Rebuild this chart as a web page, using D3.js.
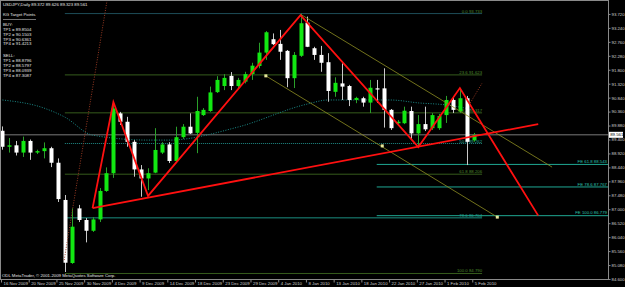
<!DOCTYPE html>
<html>
<head>
<meta charset="utf-8">
<script src="https://d3js.org/d3.v7.min.js"></script>
<style>
body { margin: 0; background: #000; }
svg text { font-family: "Liberation Sans", Arial, sans-serif; }
</style>
</head>
<body>
<div id="chart"></div>
<script>
// chart values
var priceTicks = [84.600, 85.080, 85.560, 86.040, 86.520, 87.000, 87.480, 87.960, 88.440, 88.920,
                  89.400, 89.880, 90.360, 90.840, 91.320, 91.800, 92.280, 92.760, 93.240, 93.720];
var dateLabels = ["16 Nov 2009", "20 Nov 2009", "25 Nov 2009", "30 Nov 2009", "4 Dec 2009", "9 Dec 2009",
                  "14 Dec 2009", "18 Dec 2009", "23 Dec 2009", "29 Dec 2009", "4 Jan 2010", "8 Jan 2010",
                  "13 Jan 2010", "18 Jan 2010", "22 Jan 2010", "27 Jan 2010", "1 Feb 2010", "5 Feb 2010"];
var dateBars = [0, 4, 8, 12, 16, 20, 24, 28, 32, 36, 40, 44, 48, 52, 56, 60, 64, 68];

// daily candles, bar 0 = 16 Nov 2009
var opens  = [89.70, 89.15, 89.20, 88.95, 89.35, 88.95, 89.00, 89.10, 88.60, 87.32,
              85.15, 87.03, 86.63, 86.26, 86.65, 87.63, 88.24, 90.30, 90.01, 89.32,
              88.37, 88.06, 88.26, 88.95, 89.23, 88.66, 89.48, 89.84, 89.63, 90.24,
              90.38, 91.03, 91.24, 91.59, 91.24, 91.39, 91.65, 91.93, 92.39, 92.85,
              92.69, 92.45, 91.51, 92.28, 93.42, 92.54, 92.31, 92.06, 91.04, 91.33,
              91.24, 90.76, 90.82, 90.67, 91.16, 91.16, 90.42, 89.96, 89.96, 90.38,
              89.61, 89.93, 89.79, 89.79, 90.24, 90.76, 90.36, 90.82, 89.372];
var highs  = [89.85, 89.45, 89.35, 89.50, 89.40, 89.05, 89.30, 89.15, 88.75, 87.49,
              87.03, 87.15, 86.70, 86.73, 87.73, 88.44, 90.70, 90.35, 90.18, 89.38,
              88.52, 88.41, 89.79, 89.31, 89.31, 89.84, 89.93, 90.30, 90.87, 90.48,
              91.22, 91.58, 91.65, 91.72, 91.52, 91.73, 92.04, 92.73, 93.13, 93.05,
              93.17, 92.48, 92.41, 93.733, 93.63, 92.59, 92.62, 92.37, 91.54, 92.02,
              91.28, 90.87, 90.87, 91.45, 91.45, 91.85, 90.45, 90.07, 90.53, 90.53,
              90.24, 90.53, 90.31, 90.28, 90.90, 90.83, 91.17, 90.90, 89.626];
var lows   = [89.05, 88.95, 88.85, 88.80, 88.70, 88.90, 88.75, 88.45, 87.25, 84.84,
              85.12, 86.56, 85.86, 86.22, 86.56, 87.60, 88.08, 89.90, 89.15, 88.12,
              87.43, 87.66, 88.24, 88.90, 88.59, 88.63, 89.42, 89.59, 88.93, 90.21,
              90.35, 91.00, 91.10, 91.10, 91.17, 91.33, 91.45, 91.85, 92.14, 92.65,
              92.14, 91.20, 91.17, 92.24, 92.58, 92.14, 91.73, 90.70, 90.87, 90.76,
              90.55, 90.65, 90.53, 90.31, 90.66, 89.81, 89.73, 89.90, 89.93, 89.38,
              89.13, 89.69, 89.73, 89.73, 89.97, 90.31, 90.31, 88.52, 89.323];
var closes = [89.15, 89.20, 88.95, 89.35, 88.95, 89.00, 89.10, 88.60, 87.35, 85.16,
              86.40, 86.63, 86.26, 86.65, 87.63, 88.24, 90.47, 90.01, 89.32, 88.37,
              88.06, 88.24, 89.04, 89.23, 88.66, 89.48, 89.84, 89.61, 90.38, 90.42,
              91.02, 91.45, 91.52, 91.24, 91.45, 91.65, 91.94, 92.39, 93.09, 92.68,
              92.42, 91.51, 92.31, 93.40, 92.59, 92.31, 92.04, 91.07, 91.35, 91.22,
              90.76, 90.83, 90.67, 91.18, 91.12, 90.42, 89.79, 90.01, 90.39, 89.61,
              89.93, 89.75, 90.24, 90.21, 90.76, 90.42, 90.82, 89.32, 89.561];

// moving average (dotted teal), sampled at some bars
var maBars   = [0, 6, 9, 13, 21, 24, 34, 44, 47, 56, 60, 64, 68];
var maValues = [90.76, 90.48, 90.17, 89.55, 89.38, 89.38, 89.83, 90.62, 90.76, 90.76, 90.66, 90.59, 90.42];

// fibonacci retracement 27 Nov low -> 7 Jan high
var fibNames  = ["0.0", "23.6", "38.2", "50.0", "61.8", "78.6", "100.0"];
var fibPrices = [93.733, 91.623, 90.317, 89.262, 88.206, 86.704, 84.790];
var fibBars   = [9, 69.2];

// fibonacci expansion
var feNames  = ["FE 61.8", "FE 78.6", "FE 100.0"];
var fePrices = [88.543, 87.767, 86.779];
var feBars   = [54, 87.4];

// red zigzag and trendline
var zigBars   = [13, 16, 21, 43, 60, 66, 77.3];
var zigPrices = [87.04, 90.69, 87.46, 93.68, 89.14, 91.17, 86.78];
var trendBars   = [13, 77.3];
var trendPrices = [87.04, 89.93];

// olive channel
var chanABars = [43.2, 79.3], chanAPrices = [93.68, 88.45];
var chanBBars = [38, 71.4],   chanBPrices = [91.59, 86.73];
var markBars  = [38, 54.8, 71.4], markPrices = [91.59, 89.18, 86.73];

// dotted dark red lines
var dotABars = [8.9, 15.1], dotAPrices = [85.25, 94.2];
var dotBBars = [67.5, 69.2], dotBPrices = [90.66, 91.34];

var lastPrice = 89.561;
var buyTP  = ["89.8504", "90.1503", "90.6361", "91.4213"];
var sellTP = ["88.8796", "88.5797", "88.0939", "87.3087"];

// set the dimensions of the graph
var width = 625, height = 287;
var plotRight = 608, plotBottom = 279;
var fs = "4.3px";

var svg = d3.select("#chart")
  .append("svg")
    .attr("width", width)
    .attr("height", height)
    .style("display", "block")
    .style("background", "#000");

var x = d3.scaleLinear()
  .domain([-0.36, 87.37])
  .range([0, plotRight]);

var y = d3.scaleLinear()
  .domain([84.6, 93.72])
  .range([plotBottom, 13.95]);

svg.append("clipPath").attr("id", "plot")
  .append("rect").attr("x", 1).attr("y", 1).attr("width", plotRight - 1).attr("height", plotBottom - 1);

var plot = svg.append("g").attr("clip-path", "url(#plot)");

// fibo retracement levels
var fibColors = ["#1d4c58", "#365c1c", "#365c1c", "#1f8a86", "#365c1c", "#1a8f80", "#365c1c"];
fibPrices.forEach(function(p, i) {
  plot.append("line")
    .attr("x1", x(fibBars[0])).attr("x2", x(fibBars[1]))
    .attr("y1", y(p)).attr("y2", y(p))
    .attr("stroke", fibColors[i])
    .attr("stroke-width", 1)
    .attr("stroke-dasharray", i == 3 ? "1,1" : null);
  plot.append("text")
    .attr("x", x(fibBars[1]))
    .attr("y", y(p) - 1)
    .attr("text-anchor", "end")
    .style("font-size", fs)
    .style("fill", i == 3 || i == 5 ? "#2aa898" : "#4e8a2c")
    .text(fibNames[i] + " " + p.toFixed(3));
});

// fibo expansion levels
fePrices.forEach(function(p, i) {
  plot.append("line")
    .attr("x1", x(feBars[0])).attr("x2", x(feBars[1]))
    .attr("y1", y(p)).attr("y2", y(p))
    .attr("stroke", "#1fa893")
    .attr("stroke-width", 1);
  plot.append("text")
    .attr("x", plotRight - 1)
    .attr("y", y(p) - 1.2)
    .attr("text-anchor", "end")
    .style("font-size", fs)
    .style("fill", "#2cc4b0")
    .text(feNames[i] + " " + p.toFixed(3));
});

// current price line
plot.append("line")
  .attr("x1", 0).attr("x2", plotRight)
  .attr("y1", y(lastPrice)).attr("y2", y(lastPrice))
  .attr("stroke", "#7a7a7a");

// moving average
plot.append("path")
  .datum(maBars.map(function(b, i) { return [b, maValues[i]]; }))
  .attr("fill", "none")
  .attr("stroke", "#1b8c8a")
  .attr("stroke-dasharray", "1,1.5")
  .attr("d", d3.line().curve(d3.curveMonotoneX)
    .x(function(d) { return x(d[0]); })
    .y(function(d) { return y(d[1]); }));

// candles
var bars = d3.range(opens.length);
plot.append("g").selectAll("line")
  .data(bars)
  .enter().append("line")
    .attr("x1", function(i) { return Math.round(x(i)) + 0.5; })
    .attr("x2", function(i) { return Math.round(x(i)) + 0.5; })
    .attr("y1", function(i) { return y(highs[i]); })
    .attr("y2", function(i) { return y(lows[i]); })
    .attr("stroke", function(i) { return closes[i] >= opens[i] ? "#2aa02a" : "#c8c8c8"; });

plot.append("g").selectAll("rect")
  .data(bars)
  .enter().append("rect")
    .attr("x", function(i) { return Math.round(x(i)) - 1.5; })
    .attr("width", 4)
    .attr("y", function(i) { return y(Math.max(opens[i], closes[i])); })
    .attr("height", function(i) { return Math.max(1, Math.abs(y(opens[i]) - y(closes[i]))); })
    .attr("fill", function(i) { return closes[i] >= opens[i] ? "#12e812" : "#ffffff"; });

// olive channel lines
var priceLine = d3.line()
  .x(function(d) { return x(d[0]); })
  .y(function(d) { return y(d[1]); });
function pairs(b, p) { return b.map(function(v, i) { return [v, p[i]]; }); }

plot.append("path").datum(pairs(chanABars, chanAPrices))
  .attr("fill", "none").attr("stroke", "#8e8e22").attr("stroke-width", 0.8).attr("d", priceLine);
plot.append("path").datum(pairs(chanBBars, chanBPrices))
  .attr("fill", "none").attr("stroke", "#8e8e22").attr("stroke-width", 0.8).attr("d", priceLine);
plot.append("g").selectAll("rect")
  .data(pairs(markBars, markPrices))
  .enter().append("rect")
    .attr("x", function(d) { return x(d[0]) - 1.5; })
    .attr("y", function(d) { return y(d[1]) - 1.5; })
    .attr("width", 3).attr("height", 3)
    .attr("fill", "#e6e69a");

// dotted dark red
plot.append("path").datum(pairs(dotABars, dotAPrices))
  .attr("fill", "none").attr("stroke", "#9a3a22").attr("stroke-dasharray", "1,1.5").attr("d", priceLine);
plot.append("path").datum(pairs(dotBBars, dotBPrices))
  .attr("fill", "none").attr("stroke", "#9a3a22").attr("stroke-dasharray", "1,1.5").attr("d", priceLine);

// red zigzag + trendline
plot.append("path").datum(pairs(zigBars, zigPrices))
  .attr("fill", "none").attr("stroke", "#ff1010").attr("stroke-width", 1.8)
  .attr("stroke-linejoin", "miter").attr("d", priceLine);
plot.append("path").datum(pairs(trendBars, trendPrices))
  .attr("fill", "none").attr("stroke", "#ff1010").attr("stroke-width", 1.8).attr("d", priceLine);

// frame
svg.append("rect")
  .attr("x", 0.5).attr("y", 0.5)
  .attr("width", plotRight).attr("height", plotBottom)
  .attr("fill", "none")
  .attr("stroke", "#8a8a8a");

// price axis
var yAxis = svg.append("g")
  .attr("transform", "translate(" + (plotRight + 0.5) + ",0)")
  .call(d3.axisRight(y).tickValues(priceTicks).tickFormat(d3.format(".3f")).tickSize(2).tickSizeOuter(0));
yAxis.select(".domain").remove();
yAxis.selectAll("line").attr("stroke", "#8a8a8a");
yAxis.selectAll("text")
  .attr("x", 3)
  .style("font-size", fs)
  .style("font-family", "Liberation Sans, Arial, sans-serif")
  .style("fill", "#d0d0d0");

// last price box
svg.append("rect")
  .attr("x", plotRight + 1).attr("y", y(lastPrice) - 3)
  .attr("width", 14).attr("height", 6)
  .attr("fill", "#ffffff");
svg.append("text")
  .attr("x", plotRight + 2.2).attr("y", y(lastPrice) + 1.6)
  .style("font-size", fs)
  .style("fill", "#000")
  .text(lastPrice.toFixed(3));

// date axis
var xAxis = svg.append("g")
  .attr("transform", "translate(-1.5," + (plotBottom + 0.5) + ")")
  .call(d3.axisBottom(x).tickValues(dateBars)
    .tickFormat(function(d, i) { return dateLabels[i]; })
    .tickSize(3).tickSizeOuter(0));
xAxis.select(".domain").remove();
xAxis.selectAll("line").attr("stroke", "#8a8a8a");
xAxis.selectAll("text")
  .attr("y", 2)
  .attr("dy", "0.9em")
  .attr("x", 2)
  .attr("text-anchor", "start")
  .style("font-size", fs)
  .style("font-family", "Liberation Sans, Arial, sans-serif")
  .style("fill", "#d0d0d0");

// title and panel text
var info = svg.append("g").style("font-size", fs).style("fill", "#e6e6e6");
info.append("text").attr("x", 3).attr("y", 6.2)
  .text("USDJPY,Daily  89.372 89.626 89.323 89.561");
info.append("text").attr("x", 3).attr("y", 15.6).text("KG Target Points");
info.append("line").attr("x1", 3).attr("x2", 36).attr("y1", 19.5).attr("y2", 19.5)
  .attr("stroke", "#bdbdbd").attr("stroke-width", 0.6);
info.append("text").attr("x", 3).attr("y", 26.2).text("BUY:");
buyTP.forEach(function(v, i) {
  info.append("text").attr("x", 3).attr("y", 30.9 + i * 4.8).text("TP" + (i + 1) + " = " + v);
});
info.append("text").attr("x", 3).attr("y", 57.2).text("SELL:");
sellTP.forEach(function(v, i) {
  info.append("text").attr("x", 3).attr("y", 62.2 + i * 5).text("TP" + (i + 1) + " = " + v);
});
info.append("text").attr("x", 2).attr("y", 277)
  .text("ODL MetaTrader, \u00a9 2001-2009 MetaQuotes Software Corp.");
</script>
</body>
</html>
